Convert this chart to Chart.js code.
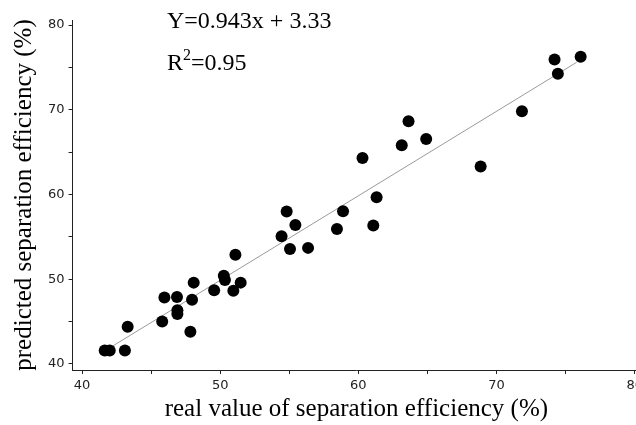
<!DOCTYPE html>
<html>
<head>
<meta charset="utf-8">
<script src="https://cdn.jsdelivr.net/npm/chart.js@4.4.1/dist/chart.umd.min.js"></script>
<style>
  html, body { margin: 0; padding: 0; background: #fff; overflow: hidden; }
  #wrap { width: 636px; height: 425px; overflow: hidden; }
</style>
</head>
<body>
<div id="wrap"><canvas id="scatter" width="648" height="425"></canvas></div>
<script>
// measured (real) vs predicted separation efficiency, %
const realValues = [
  41.64, 42.0, 43.1, 43.3, 45.8, 45.96, 46.87, 46.9, 46.9, 47.84,
  47.96, 48.08, 49.56, 50.26, 50.34, 50.95, 51.1, 51.48, 54.44, 54.81,
  55.05, 55.44, 56.36, 58.45, 58.89, 60.3, 61.08, 61.32, 63.14, 63.63,
  64.91, 68.85, 71.84, 74.2, 74.44, 76.09
];
const predictedValues = [
  41.6, 41.6, 41.6, 44.4, 45.0, 47.85, 47.9, 46.35, 45.9, 43.8,
  47.57, 49.6, 48.7, 50.4, 49.9, 48.64, 52.9, 49.6, 55.07, 58.0,
  53.57, 56.4, 53.7, 55.94, 58.02, 64.3, 56.33, 59.68, 65.8, 68.64,
  66.54, 63.31, 69.82, 75.94, 74.24, 76.25
];

// fitted line, end points as drawn
const fitX = [42.2, 75.8];
const fitY = [42.1, 75.6];

const xTicks = [40, 45, 50, 55, 60, 65, 70, 75, 80];
const yTicks = [40, 45, 50, 55, 60, 65, 70, 75, 80];

const TICK_FONT = { family: "DejaVu Sans", size: 13, lineHeight: 1.0 };
const TITLE_FONT = { family: "Liberation Serif", size: 25, lineHeight: 1.0 };
const INK = "#222";

const points = realValues.map((x, i) => ({ x, y: predictedValues[i] }));
const fitLine = fitX.map((x, i) => ({ x, y: fitY[i] }));

/* equation + R² text in the upper left */
const equationText = {
  id: "equationText",
  afterDraw(chart) {
    const { ctx } = chart;
    ctx.save();
    ctx.fillStyle = "#000";
    ctx.textBaseline = "alphabetic";
    ctx.textAlign = "left";
    ctx.font = "24px 'Liberation Serif'";
    ctx.fillText("Y=0.943x + 3.33", 167, 28);

    ctx.fillText("R", 167, 70);
    const rw = ctx.measureText("R").width;
    ctx.font = "16px 'Liberation Serif'";
    ctx.fillText("2", 167 + rw, 60);
    const sw = ctx.measureText("2").width;
    ctx.font = "24px 'Liberation Serif'";
    ctx.fillText("=0.95", 167 + rw + sw, 70);
    ctx.restore();
  }
};

const tickLabel = v => (v % 10 === 0 ? String(v) : "");

new Chart(document.getElementById("scatter"), {
  type: "scatter",
  data: {
    datasets: [
      {
        label: "fit",
        type: "line",
        data: fitLine,
        borderColor: "#9a9a9a",
        borderWidth: 1,
        pointRadius: 0,
        fill: false,
        order: 2
      },
      {
        label: "samples",
        data: points,
        backgroundColor: "#000",
        borderColor: "#000",
        borderWidth: 0,
        pointRadius: 6,
        order: 1
      }
    ]
  },
  options: {
    responsive: false,
    animation: false,
    layout: { padding: { left: 0, right: 0, top: 20, bottom: 0 } },
    plugins: {
      legend: { display: false },
      tooltip: { enabled: false }
    },
    scales: {
      x: {
        type: "linear",
        min: 39.31,
        max: 80.4,
        afterBuildTicks: scale => { scale.ticks = xTicks.map(value => ({ value })); },
        grid: { drawOnChartArea: false, drawTicks: true, tickLength: 4, color: INK },
        border: { display: true, color: INK, width: 1 },
        ticks: { font: TICK_FONT, color: INK, padding: 5, maxRotation: 0, callback: tickLabel },
        title: {
          display: true,
          text: "real value of separation efficiency (%)",
          font: TITLE_FONT,
          color: "#000",
          padding: { top: 0, bottom: 3 }
        }
      },
      y: {
        type: "linear",
        min: 39.29,
        max: 80.59,
        afterBuildTicks: scale => { scale.ticks = yTicks.map(value => ({ value })); },
        grid: { drawOnChartArea: false, drawTicks: true, tickLength: 4, color: INK },
        border: { display: true, color: INK, width: 1 },
        ticks: { font: TICK_FONT, color: INK, padding: 4, callback: tickLabel },
        title: {
          display: true,
          text: "predicted separation efficiency (%)",
          font: TITLE_FONT,
          color: "#000",
          padding: { top: 12, bottom: 7 }
        }
      }
    }
  },
  plugins: [equationText]
});
</script>
</body>
</html>
